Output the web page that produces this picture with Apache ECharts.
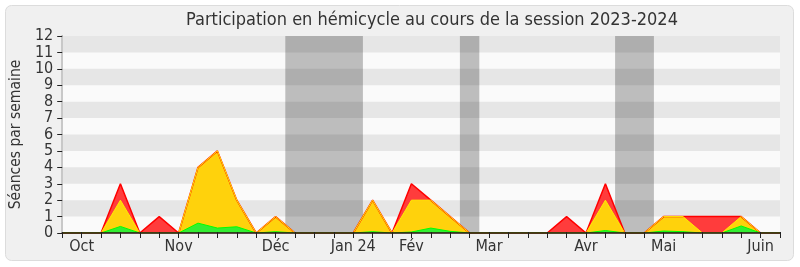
<!DOCTYPE html>
<html>
<head>
<meta charset="utf-8">
<script src="https://cdn.jsdelivr.net/npm/echarts@6/dist/echarts.min.js"></script>
<style>
html,body{margin:0;padding:0;background:#ffffff;}
#c{width:800px;height:267px;}
</style>
</head>
<body>
<div id="c"></div>
<script>
// Weeks of the session (index 0 = first week shown)
const weekCount = 38;
// Month labels and the week index where each is shown
const monthWeeks = [1, 6, 11, 15, 18, 22, 27, 31, 36];
const monthNames = ['Oct', 'Nov', 'Déc', 'Jan 24', 'Fév', 'Mar', 'Avr', 'Mai', 'Juin'];
// Parliamentary vacation weeks (first week, last week)
const vacations = [[12, 15], [21, 21], [29, 30]];
// Séances par semaine
const totalSeances = [0,0,0,3,0,1,0,4,5,2,0,1,0,0,0,0,2,0,3,2,1,0,0,0,0,0,1,0,3,0,0,1,1,1,1,1,0,0];
const presences    = [0,0,0,2,0,0,0,4,5,2,0,1,0,0,0,0,2,0,2,2,1,0,0,0,0,0,0,0,2,0,0,1,1,0,0,1,0,0];
const interventions= [0,0,0,0.4,0,0,0,0.6,0.3,0.38,0,0.08,0,0,0,0,0.08,0,0.06,0.3,0.1,0,0,0,0,0,0,0,0.15,0,0,0.12,0.08,0,0,0.43,0,0];
const yTicks = [0,1,2,3,4,5,6,7,8,9,10,11,12];

const toPairs = arr => arr.map((v, i) => [i, v]);
const FONT = '"DejaVu Sans Condensed", "DejaVu Sans", sans-serif';

const chart = echarts.init(document.getElementById('c'), null, {renderer: 'canvas'});
const option = {
  animation: false,
  backgroundColor: '#ffffff',
  graphic: [{
    type: 'rect', z: -10, silent: true,
    shape: {x: 5.5, y: 5.5, width: 788, height: 255, r: 6},
    style: {fill: '#f0f0f0', stroke: '#dcdcdc', lineWidth: 1}
  }],
  title: {
    text: 'Participation en hémicycle au cours de la session 2023-2024',
    left: 181, top: 6,
    textStyle: {fontFamily: FONT, fontSize: 18, fontWeight: 'normal', color: '#333333'}
  },
  grid: {left: 62, right: 20, top: 36, bottom: 34, show: true, backgroundColor: '#fafafa', borderWidth: 0},
  xAxis: [{
    type: 'value', min: 0, max: weekCount - 1, interval: 1, z: 4,
    axisLine: {show: true, onZero: false, lineStyle: {color: '#2a1010', width: 1.5}},
    axisTick: {show: true, length: 5, lineStyle: {color: '#222222'}},
    splitLine: {show: false},
    axisLabel: {
      show: true, margin: 6, color: '#333333', fontFamily: FONT, fontSize: 16,
      showMinLabel: true, showMaxLabel: true,
      formatter: v => { const k = monthWeeks.indexOf(Math.round(v)); return k >= 0 ? monthNames[k] : ''; }
    }
  }, {
    type: 'value', position: 'top', min: 0, max: weekCount - 1, interval: 1, z: 4,
    axisLine: {show: false},
    axisTick: {show: true, length: 1, lineStyle: {color: '#222222'}},
    axisLabel: {show: false}, splitLine: {show: false}
  }],
  yAxis: [{
    type: 'value', min: 0, max: 12, interval: 1, z: 2,
    name: 'Séances par semaine', nameLocation: 'middle', nameGap: 35, nameRotate: 90,
    nameTextStyle: {fontFamily: FONT, fontSize: 15.5, color: '#333333'},
    axisLine: {show: true, lineStyle: {color: '#222222'}},
    axisTick: {show: true, length: 5, lineStyle: {color: '#222222'}},
    axisLabel: {margin: 9, color: '#333333', fontFamily: FONT, fontSize: 16,
      formatter: v => yTicks.includes(v) ? String(v) : ''},
    splitLine: {show: false},
    splitArea: {show: true, areaStyle: {color: ['rgba(0,0,0,0)', 'rgba(0,0,0,0.08)']}}
  }, {
    type: 'value', position: 'right', min: 0, max: 12, interval: 1, z: 2,
    axisLine: {show: true, lineStyle: {color: '#c8c8c8', width: 2}},
    axisTick: {show: false}, axisLabel: {show: false}, splitLine: {show: false}
  }],
  series: [
    {
      type: 'line', data: [], z: 1,
      markArea: {
        silent: true, z: 1,
        itemStyle: {color: '#bdbdbd'},
        data: vacations.map(([a, b]) => [{xAxis: a - 0.5}, {xAxis: b + 0.5}])
      }
    },
    {
      name: 'Séances', type: 'line', data: toPairs(totalSeances), z: 3,
      symbol: 'none', lineStyle: {color: '#ff0000', width: 1.5},
      areaStyle: {color: '#ff3c3c', opacity: 1}
    },
    {
      name: 'Présences', type: 'line', data: toPairs(presences), z: 3,
      symbol: 'none', lineStyle: {color: '#ffee00', width: 1},
      areaStyle: {color: '#ffd20c', opacity: 1}
    },
    {
      name: 'Interventions', type: 'line', data: toPairs(interventions), z: 3,
      symbol: 'none', lineStyle: {color: '#00ff00', width: 1},
      areaStyle: {color: '#33ee33', opacity: 1}
    }
  ]
};
chart.setOption(option);
</script>
</body>
</html>
